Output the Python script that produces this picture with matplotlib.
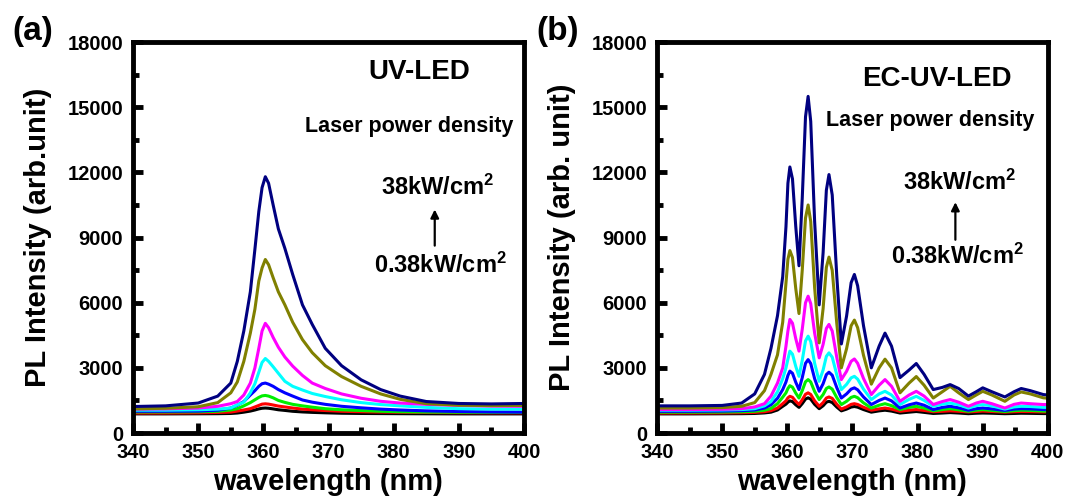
import matplotlib
matplotlib.use("Agg")
import matplotlib.pyplot as plt
from matplotlib.ticker import MultipleLocator

plt.rcParams['font.family'] = ['Liberation Sans', 'DejaVu Sans']
plt.rcParams['font.weight'] = 'bold'
plt.rcParams['mathtext.fontset'] = 'custom'
plt.rcParams['mathtext.rm'] = 'Liberation Sans:bold'
plt.rcParams['mathtext.bf'] = 'Liberation Sans:bold'
plt.rcParams['mathtext.default'] = 'rm'

# ---- panel (a): UV-LED ----
wl_a = [340, 345, 350, 353, 355, 356, 357, 358, 358.7, 359.3, 359.8, 360.3, 360.8, 361.5,
        362.3, 363.3, 364.5, 366, 367.5, 369.5, 372, 375, 378, 381, 385, 390, 395, 400]
a_black = [880, 880, 885, 890, 900, 920, 960, 1010, 1060, 1110, 1140, 1150, 1140, 1110,
           1070, 1040, 1000, 970, 950, 930, 910, 900, 895, 890, 885, 880, 880, 880]
a_red = [920, 920, 930, 945, 965, 1010, 1060, 1120, 1200, 1270, 1330, 1345, 1330, 1290,
         1240, 1200, 1150, 1100, 1070, 1035, 1000, 980, 965, 955, 945, 935, 930, 930]
a_green = [970, 970, 980, 1000, 1060, 1120, 1250, 1400, 1530, 1640, 1710, 1730, 1700, 1620,
           1500, 1410, 1320, 1250, 1190, 1120, 1070, 1035, 1000, 980, 965, 955, 950, 950]
a_blue = [1000, 1000, 1010, 1050, 1150, 1280, 1450, 1750, 1950, 2150, 2270, 2300, 2250, 2150,
          2000, 1850, 1700, 1520, 1420, 1320, 1230, 1160, 1100, 1060, 1020, 990, 970, 960]
a_cyan = [1050, 1050, 1070, 1100, 1150, 1300, 1420, 1850, 2270, 2800, 3250, 3430, 3300, 3050,
          2750, 2380, 2150, 1980, 1820, 1680, 1530, 1400, 1310, 1250, 1180, 1120, 1100, 1100]
a_magenta = [1100, 1110, 1150, 1230, 1350, 1450, 1750, 2300, 3000, 3900, 4700, 5050, 4850, 4400,
             3950, 3500, 3080, 2650, 2300, 2050, 1800, 1600, 1460, 1380, 1320, 1270, 1240, 1230]
a_olive = [1110, 1140, 1210, 1400, 1850, 2350, 3300, 4600, 5700, 7000, 7600, 7990, 7750, 7150,
           6500, 5900, 5100, 4300, 3700, 3100, 2600, 2150, 1800, 1550, 1350, 1280, 1260, 1270]
a_navy = [1220, 1250, 1380, 1700, 2300, 3300, 4700, 6500, 8460, 10200, 11300, 11800, 11500, 10500,
          9400, 8500, 7300, 5900, 5000, 3900, 3100, 2450, 2000, 1700, 1450, 1360, 1340, 1360]

# ---- panel (b): EC-UV-LED ----
wl_b = [340, 345, 350, 353, 355, 356.5, 357.5, 358.5, 359.3, 359.8,
        360.1, 360.4, 360.8, 361.3, 361.8, 362.3, 362.8, 363.2, 363.6, 364.2,
        364.9, 365.5, 366.0, 366.4, 366.9, 367.6, 368.3, 369.1, 369.8, 370.3,
        370.8, 371.7, 372.9, 374.1, 375, 376, 377.3, 378.7, 379.8, 381,
        382.4, 383.8, 385, 386.3, 387.8, 389, 390, 391.4, 393.4, 394.8,
        395.9, 397.3, 399.3, 400]
b_black = [880, 880, 885, 890, 900, 925, 960, 1060, 1230, 1330,
           1420, 1480, 1445, 1300, 1180, 1355, 1565, 1620, 1560, 1320,
           1120, 1255, 1420, 1460, 1405, 1195, 1020, 1100, 1195, 1220,
           1190, 1080, 960, 1020, 1050, 1010, 920, 960, 990, 950,
           900, 920, 940, 920, 890, 910, 920, 910, 890, 900,
           910, 905, 895, 895]
b_red = [920, 920, 925, 935, 950, 980, 1030, 1150, 1350, 1480,
         1620, 1690, 1645, 1460, 1310, 1530, 1785, 1850, 1775, 1480,
         1230, 1400, 1610, 1660, 1595, 1320, 1100, 1200, 1320, 1350,
         1315, 1185, 1050, 1110, 1150, 1100, 1000, 1050, 1080, 1040,
         980, 1000, 1020, 1000, 970, 990, 1010, 990, 960, 980,
         990, 985, 970, 970]
b_green = [960, 960, 965, 980, 1000, 1050, 1130, 1350, 1650, 1850,
           2050, 2180, 2110, 1840, 1610, 1950, 2360, 2460, 2350, 1910,
           1540, 1770, 2050, 2120, 2020, 1630, 1310, 1460, 1640, 1690,
           1625, 1390, 1150, 1280, 1350, 1260, 1080, 1180, 1230, 1150,
           1020, 1080, 1120, 1070, 1000, 1050, 1080, 1040, 990, 1030,
           1050, 1040, 1010, 1010]
b_blue = [1000, 1000, 1010, 1030, 1060, 1150, 1300, 1600, 2000, 2350,
          2650, 2850, 2750, 2340, 2000, 2550, 3210, 3380, 3200, 2500,
          1920, 2270, 2690, 2800, 2660, 2090, 1610, 1800, 2020, 2080,
          1990, 1660, 1310, 1500, 1610, 1480, 1150, 1300, 1380, 1280,
          1080, 1180, 1230, 1160, 1050, 1120, 1150, 1110, 1040, 1100,
          1120, 1110, 1080, 1080]
b_cyan = [1050, 1050, 1060, 1080, 1120, 1250, 1450, 1900, 2500, 3000,
          3400, 3770, 3630, 3070, 2610, 3350, 4240, 4460, 4210, 3210,
          2380, 2900, 3530, 3690, 3490, 2680, 2000, 2240, 2540, 2610,
          2480, 2020, 1540, 1800, 1920, 1750, 1310, 1550, 1690, 1500,
          1230, 1330, 1380, 1300, 1150, 1260, 1310, 1250, 1100, 1200,
          1230, 1220, 1180, 1180]
b_magenta = [1080, 1080, 1090, 1120, 1200, 1350, 1700, 2300, 3000, 4000,
             4700, 5230, 5055, 4350, 3770, 4780, 6000, 6300, 5960, 4600,
             3460, 4080, 4815, 5000, 4695, 3480, 2460, 2840, 3300, 3410,
             3210, 2510, 1770, 2200, 2460, 2150, 1460, 1750, 1920, 1700,
             1310, 1450, 1540, 1420, 1230, 1380, 1460, 1350, 1150, 1320,
             1380, 1350, 1310, 1310]
b_olive = [1150, 1150, 1170, 1230, 1400, 1950, 2700, 3600, 5100, 6900,
           8000, 8400, 8080, 6660, 5500, 7500, 9900, 10500, 9740, 6690,
           4150, 5730, 7630, 8100, 7490, 5040, 3000, 3880, 4940, 5200,
           4850, 3580, 2250, 3000, 3400, 3000, 1850, 2300, 2600, 2200,
           1610, 1900, 2150, 1850, 1540, 1750, 1920, 1750, 1460, 1750,
           1890, 1800, 1620, 1600]
b_navy = [1250, 1250, 1270, 1380, 1800, 2700, 3900, 5400, 7200, 9500,
          11500, 12250, 11700, 9520, 7700, 10820, 14560, 15500, 14350, 9740,
          5900, 8300, 11180, 11900, 10960, 7220, 4100, 5380, 6920, 7300,
          6780, 4940, 3000, 4000, 4600, 4000, 2550, 2900, 3200, 2700,
          2000, 2100, 2230, 2050, 1700, 1900, 2080, 1900, 1660, 1900,
          2050, 1950, 1770, 1750]

colors = ['black', '#ff0000', '#00ee00', '#0000ff', '#00ffff', '#ff00ff', '#808000', '#000080']
curves_a = [a_black, a_red, a_green, a_blue, a_cyan, a_magenta, a_olive, a_navy]
curves_b = [b_black, b_red, b_green, b_blue, b_cyan, b_magenta, b_olive, b_navy]

fig = plt.figure(figsize=(10.67, 4.98), dpi=100)
ax_a = fig.add_axes([0.1247, 0.1305, 0.3664, 0.785])
ax_b = fig.add_axes([0.6157, 0.1305, 0.3664, 0.785])


def style_axis(ax, ylabel):
    ax.set_xlim(340, 400)
    ax.set_ylim(0, 18000)
    ax.xaxis.set_major_locator(MultipleLocator(10))
    ax.xaxis.set_minor_locator(MultipleLocator(5))
    ax.yaxis.set_major_locator(MultipleLocator(3000))
    ax.yaxis.set_minor_locator(MultipleLocator(1500))
    ax.tick_params(which='both', direction='in', top=False, right=False, width=3.5)
    ax.tick_params(which='major', length=7, labelsize=14.5, pad=7)
    ax.tick_params(which='minor', length=4)
    for lab in ax.get_xticklabels() + ax.get_yticklabels():
        lab.set_fontweight('bold')
    for sp in ax.spines.values():
        sp.set_linewidth(3.5)
    ax.set_xlabel('wavelength (nm)', fontsize=21, fontweight='bold')
    ax.set_ylabel(ylabel, fontsize=21, fontweight='bold')
    ax.xaxis.set_label_coords(0.5, -0.09)
    ax.yaxis.set_label_coords(-0.207, 0.5)


for ys, c in zip(curves_a, colors):
    ax_a.plot(wl_a, ys, color=c, lw=2.2)
for ys, c in zip(curves_b, colors):
    ax_b.plot(wl_b, ys, color=c, lw=2.2)

style_axis(ax_a, 'PL Intensity (arb.unit)')
style_axis(ax_b, 'PL Intensity (arb. unit)')

hi_label = '38kW/cm$^{2}$'
lo_label = '0.38kW/cm$^{2}$'

# annotations panel (a)
ax_a.text(383.9, 16620, 'UV-LED', fontsize=20, fontweight='bold', ha='center', va='center')
ax_a.text(382.4, 14090, 'Laser power density', fontsize=15.5, fontweight='bold', ha='center', va='center')
ax_a.text(386.8, 11300, hi_label, fontsize=17, fontweight='bold', ha='center', va='center')
ax_a.text(387.2, 7700, lo_label, fontsize=17, fontweight='bold', ha='center', va='center')
ax_a.annotate('', xy=(386.3, 10420), xytext=(386.3, 8500),
              arrowprops=dict(arrowstyle='-|>', color='black', lw=1.6, mutation_scale=12))

# annotations panel (b)
ax_b.text(382.9, 16320, 'EC-UV-LED', fontsize=20, fontweight='bold', ha='center', va='center')
ax_b.text(382.0, 14385, 'Laser power density', fontsize=15.5, fontweight='bold', ha='center', va='center')
ax_b.text(386.4, 11560, hi_label, fontsize=17, fontweight='bold', ha='center', va='center')
ax_b.text(386.2, 8120, lo_label, fontsize=17, fontweight='bold', ha='center', va='center')
ax_b.annotate('', xy=(385.8, 10755), xytext=(385.8, 8770),
              arrowprops=dict(arrowstyle='-|>', color='black', lw=1.6, mutation_scale=12))

fig.text(0.012, 0.936, '(a)', fontsize=24, fontweight='bold', ha='left', va='center')
fig.text(0.503, 0.936, '(b)', fontsize=24, fontweight='bold', ha='left', va='center')

fig.savefig('out.png', dpi=100)
